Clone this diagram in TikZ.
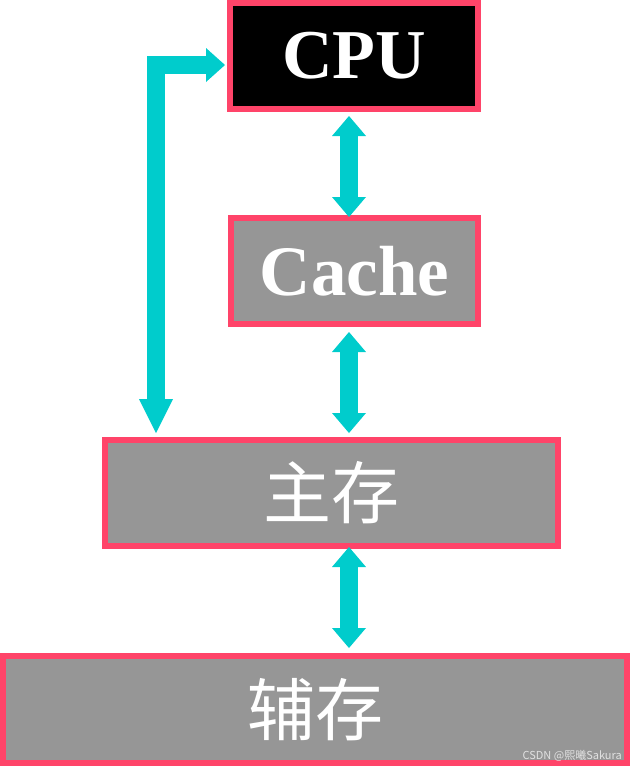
\documentclass[tikz,border=0pt]{standalone}
\usepackage{fontspec}
\setmainfont{Liberation Serif}
\newfontfamily\cjk{Noto Sans CJK SC}
\usetikzlibrary{arrows.meta}
\definecolor{bordpink}{RGB}{255,68,105}
\definecolor{boxgray}{RGB}{150,150,150}
\definecolor{arrcyan}{RGB}{0,204,204}
\tikzset{
  box/.style={draw=bordpink, line width=6pt, outer sep=0pt, inner sep=0pt, text=white},
  dbl/.style={draw=arrcyan, line width=18pt,
    {Triangle[width=34pt,length=20pt,line width=0pt]}-{Triangle[width=34pt,length=20pt,line width=0pt]}},
  sgl/.style={draw=arrcyan, line width=18pt, line join=miter}
}
\begin{document}
\begin{tikzpicture}[x=1pt,y=-1pt]
\useasboundingbox (0,0) rectangle (630,766);
\node[box, fill=black, minimum width=248pt, minimum height=106pt,
  font=\fontsize{70}{80}\selectfont\bfseries] (cpu) at (354,56) {CPU};
\node[box, fill=boxgray, minimum width=247pt, minimum height=106pt,
  font=\fontsize{71}{80}\selectfont\bfseries] (cache) at (354.5,271) {Cache};
\node[box, fill=boxgray, minimum width=453pt, minimum height=106pt,
  font=\cjk\fontsize{68}{76}\selectfont] (main) at (331.5,493) {主存};
\node[box, fill=boxgray, minimum width=624pt, minimum height=107pt,
  font=\cjk\fontsize{68}{76}\selectfont] (aux) at (315,709.5) {辅存};
\node[anchor=south east, inner sep=0pt, text={rgb,255:red,225;green,225;blue,225},
  font=\cjk\fontsize{11}{12}\selectfont] (wm) at (622,762) {CSDN @熙曦Sakura};
% connectors
\draw[dbl] ([xshift=-5pt,yshift=-7pt]cpu.south) -- ([xshift=-5.5pt,yshift=1pt]cache.north);
\draw[dbl] ([xshift=-5.5pt,yshift=-8pt]cache.south) -- ([xshift=17.5pt,yshift=7pt]main.north);
\draw[dbl] ([xshift=17.5pt,yshift=-1pt]main.south) -- ([xshift=34pt,yshift=8pt]aux.north);
\coordinate (corner) at (156,65);
\coordinate (cputip) at ([xshift=-5pt]cpu.west |- corner);
\coordinate (maintip) at ([yshift=7pt]main.north -| corner);
\draw[sgl, {Triangle[width=34pt,length=19pt,line width=0pt]}-{Triangle[width=34pt,length=34pt,line width=0pt]}]
  (cputip) -- (corner) -- (maintip);
\end{tikzpicture}
\end{document}
